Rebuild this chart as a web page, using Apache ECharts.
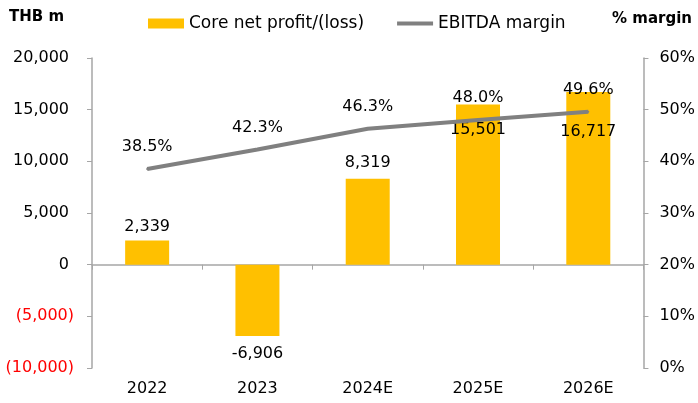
<!DOCTYPE html>
<html>
<head>
<meta charset="utf-8">
<script src="https://cdn.jsdelivr.net/npm/echarts@6/dist/echarts.min.js"></script>
<style>
  html, body { margin: 0; padding: 0; background: #fff; }
  #chart { width: 698px; height: 403px; }
</style>
</head>
<body>
<div id="chart"></div>
<script>
const years = ['2022', '2023', '2024E', '2025E', '2026E'];
const coreProfit = [2339, -6906, 8319, 15501, 16717];
const ebitdaMargin = [38.5, 42.3, 46.3, 48.0, 49.6];
// where each bar label sits (reference places some inside the bar)
const profitLabelPos = [
  { position: 'top', distance: 6 },
  { position: 'bottom', distance: 10 },
  { position: 'top', distance: 8 },
  { position: 'insideTop', distance: 17 },
  { position: 'insideTop', distance: 32 }
];

const font = '"DejaVu Sans", Verdana, sans-serif';
const fmt = v => Math.abs(v).toLocaleString('en-US');

document.addEventListener('DOMContentLoaded', () => {
  echarts.init(document.querySelector('#chart')).setOption({
    animation: false,
    textStyle: { fontFamily: font },
    title: [
      { text: 'THB m', left: 9, top: 10, padding: 0, textStyle: { fontFamily: font, fontSize: 15, fontWeight: 'bold', color: '#000' } },
      { text: '% margin', right: 6, top: 12, padding: 0, textStyle: { fontFamily: font, fontSize: 15, fontWeight: 'bold', color: '#000' } }
    ],
    legend: {
      left: 148,
      top: 15,
      padding: 0,
      itemWidth: 36,
      itemHeight: 10,
      itemGap: 33,
      textStyle: { fontFamily: font, fontSize: 17, color: '#000' },
      data: [
        { name: 'Core net profit/(loss)', icon: 'rect' },
        { name: 'EBITDA margin', icon: 'path://M0,0L36,0L36,4L0,4Z', itemStyle: { color: '#808080', opacity: 1 } }
      ]
    },
    grid: { left: 92, right: 54, top: 58, bottom: 35 },
    xAxis: [{
      type: 'category',
      data: years,
      axisLine: { onZero: true, lineStyle: { color: '#a6a6a6', width: 1.5 } },
      axisTick: { show: true, length: 5, lineStyle: { color: '#a6a6a6' } },
      axisLabel: { show: false }
    }, {
      type: 'category',
      data: years,
      position: 'bottom',
      axisLine: { show: false, onZero: false },
      axisTick: { show: false },
      axisLabel: { margin: 13, fontFamily: font, fontSize: 16, color: '#000' }
    }],
    yAxis: [{
      type: 'value',
      min: -10000,
      max: 20000,
      interval: 5000,
      splitLine: { show: false },
      axisLine: { show: true, lineStyle: { color: '#a6a6a6', width: 1.5 } },
      axisTick: { show: true, length: 5, lineStyle: { color: '#a6a6a6' } },
      axisLabel: {
        margin: 18,
        fontFamily: font,
        fontSize: 16,
        formatter: v => (v < 0 ? '{n|(' + fmt(v) + ')}' : '{p|' + fmt(v) + '}'),
        rich: {
          n: { color: '#ff0000', fontFamily: font, fontSize: 16 },
          p: { color: '#000', fontFamily: font, fontSize: 16, padding: [0, 5, 0, 0] }
        }
      }
    }, {
      type: 'value',
      min: 0,
      max: 60,
      interval: 10,
      position: 'right',
      splitLine: { show: false },
      axisLine: { show: true, lineStyle: { color: '#a6a6a6', width: 1.5 } },
      axisTick: { show: true, length: 5, lineStyle: { color: '#a6a6a6' } },
      axisLabel: { margin: 16, fontFamily: font, fontSize: 16, color: '#000', formatter: '{value}%' }
    }],
    series: [{
      name: 'Core net profit/(loss)',
      type: 'bar',
      xAxisIndex: 0,
      yAxisIndex: 0,
      barWidth: 44,
      itemStyle: { color: '#ffc000' },
      data: coreProfit.map((v, i) => ({
        value: v,
        label: {
          show: true,
          position: profitLabelPos[i].position,
          distance: profitLabelPos[i].distance,
          fontFamily: font,
          fontSize: 16,
          color: '#000',
          formatter: p => (p.value < 0 ? '-' : '') + fmt(p.value)
        }
      }))
    }, {
      name: 'EBITDA margin',
      type: 'line',
      xAxisIndex: 0,
      yAxisIndex: 1,
      data: ebitdaMargin,
      symbol: 'circle',
      symbolSize: 2,
      itemStyle: { color: '#808080' },
      lineStyle: { color: '#808080', width: 4 },
      z: 5,
      label: {
        show: true,
        position: 'top',
        distance: 13,
        fontFamily: font,
        fontSize: 16,
        color: '#000',
        formatter: p => p.value.toFixed(1) + '%'
      }
    }]
  });
});
</script>
</body>
</html>
